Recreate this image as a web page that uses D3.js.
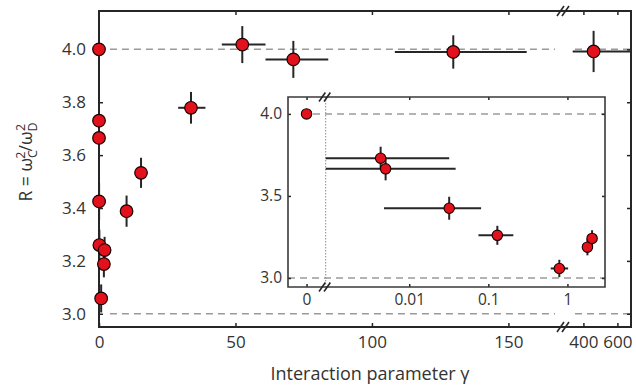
<!DOCTYPE html>
<html>
<head>
<meta charset="utf-8">
<script src="https://cdn.jsdelivr.net/npm/d3@7"></script>
<style>
  html, body { margin: 0; padding: 0; background: #fff; }
  svg { display: block; }
  text { font-family: "Open Sans", "Noto Sans", sans-serif; fill: #333; }
</style>
</head>
<body>
<svg id="chart" width="636" height="385"></svg>
<script>
// Interaction parameter gamma, ratio R = wC^2/wD^2 and their uncertainties
const gamma    = [0,    0.00435, 0.00503, 0.032, 0.13,  0.79,  1.79, 2.05, 10.1,  15.4,  33.7, 52.5, 71.2, 129.8, 460];
const ratio    = [4.00, 3.73,    3.665,   3.425, 3.26,  3.058, 3.188, 3.241, 3.388, 3.533, 3.779, 4.018, 3.962, 3.99, 3.992];
const ratioErr = [0.03, 0.07,    0.07,    0.07,  0.058, 0.053, 0.05, 0.05, 0.059, 0.057, 0.06, 0.07, 0.07, 0.063, 0.078];
const gammaLo  = [0,    0,       0,       0.0048, 0.075, 0.615, 1.62, 1.86, 10.1,  15.4,  29,   45,   61,   108.4, 337];
const gammaHi  = [0,    0.032,   0.0386,  0.081, 0.207, 1.02,  1.98, 2.26, 10.1,  15.4,  39,   61,   84,   156.7, 700];

// Tick values
const mainYTicks   = [3.0, 3.2, 3.4, 3.6, 3.8, 4.0];
const mainXTicksL  = [0, 50, 100, 150];
const mainXTicksR  = [400, 600];
const insetYTicks  = [3.0, 3.5, 4.0];
const insetXTicks  = [0.01, 0.1, 1];
const insetXLabels = ["0.01", "0.1", "1"];
const refLines     = [3.0, 4.0];
const insetMax     = 3;   // points with gamma below this appear in the inset

const points = gamma.map((g, i) => ({
  g, r: ratio[i], re: ratioErr[i], lo: gammaLo[i], hi: gammaHi[i]
}));

const svg = d3.select("#chart");
const ink = "#262626";
const dashCol = "#9a9a9a";
const redFill = "#e3111b";

// ---------- main panel ----------
const M = { left: 99, right: 631, top: 11, bottom: 327, brk: 563 };
const xL = d3.scaleLinear().domain([0, 170]).range([M.left, M.brk]);
const xR = d3.scaleLinear().domain([280, 680]).range([M.brk, M.right]).clamp(true);
const xMain = g => g <= 170 ? xL(g) : xR(g);
const yMain = d3.scaleLinear().domain([2.95, 4.145]).range([M.bottom, M.top]);

const main = svg.append("g");

// reference lines (broken at the axis break)
refLines.forEach(v => {
  [[xL(4), M.brk - 8], [M.brk + 12, M.right]].forEach(([a, b]) => {
    main.append("line")
      .attr("x1", a).attr("x2", b)
      .attr("y1", yMain(v)).attr("y2", yMain(v))
      .attr("stroke", dashCol).attr("stroke-width", 1.5)
      .attr("stroke-dasharray", "7,5");
  });
});

// axes with inward ticks
function styleAxis(g) {
  g.select(".domain").remove();
  g.selectAll(".tick line").attr("stroke", ink).attr("stroke-width", 1.5);
  g.selectAll(".tick text").attr("font-size", 17).attr("fill", "#333")
    .attr("font-family", '"Open Sans", sans-serif');
}
main.append("g").attr("transform", `translate(0,${M.bottom})`)
  .call(d3.axisBottom(xL).tickValues(mainXTicksL).tickSize(-4).tickPadding(9).tickFormat(d3.format("d")))
  .call(styleAxis);
main.append("g").attr("transform", `translate(0,${M.bottom})`)
  .call(d3.axisBottom(xR).tickValues(mainXTicksR).tickSize(-4).tickPadding(9).tickFormat(d3.format("d")))
  .call(styleAxis);
main.append("g").attr("transform", `translate(0,${M.top})`)
  .call(d3.axisTop(xL).tickValues(mainXTicksL.slice(1)).tickSize(-4).tickFormat(""))
  .call(styleAxis);
main.append("g").attr("transform", `translate(0,${M.top})`)
  .call(d3.axisTop(xR).tickValues(mainXTicksR).tickSize(-4).tickFormat(""))
  .call(styleAxis);
main.append("g").attr("transform", `translate(${M.left},0)`)
  .call(d3.axisLeft(yMain).tickValues(mainYTicks).tickSize(-4).tickPadding(13).tickFormat(d3.format(".1f")))
  .call(styleAxis);
main.append("g").attr("transform", `translate(${M.right},0)`)
  .call(d3.axisRight(yMain).tickValues(mainYTicks).tickSize(-4).tickFormat(""))
  .call(styleAxis);

// frame
main.append("path")
  .attr("d", `M${M.left},${M.top}H${M.right}V${M.bottom}H${M.left}Z`)
  .attr("fill", "none").attr("stroke", ink).attr("stroke-width", 2);

// axis break marks
function breakMark(g, x, y, h) {
  [-2.5, 2.5].forEach(dx => {
    g.append("line")
      .attr("x1", x + dx - h * 0.35).attr("y1", y + h / 2)
      .attr("x2", x + dx + h * 0.35).attr("y2", y - h / 2)
      .attr("stroke", ink).attr("stroke-width", 1.6);
  });
}
breakMark(main, M.brk, M.top, 10);
breakMark(main, M.brk, M.bottom, 10);

// error bars and markers
const mg = main.append("g");
points.forEach(p => {
  mg.append("line")
    .attr("x1", xMain(p.g)).attr("x2", xMain(p.g))
    .attr("y1", yMain(p.r - p.re)).attr("y2", yMain(p.r + p.re))
    .attr("stroke", ink).attr("stroke-width", 2);
  mg.append("line")
    .attr("x1", xMain(p.lo)).attr("x2", xMain(p.hi))
    .attr("y1", yMain(p.r)).attr("y2", yMain(p.r))
    .attr("stroke", ink).attr("stroke-width", 2);
});
mg.selectAll("circle").data(points).join("circle")
  .attr("cx", d => xMain(d.g)).attr("cy", d => yMain(d.r))
  .attr("r", 6.3).attr("fill", redFill).attr("stroke", "#1a0000").attr("stroke-width", 1.2);

// axis titles
svg.append("text")
  .attr("x", (M.left + M.right) / 2 + 5).attr("y", 380)
  .attr("text-anchor", "middle").attr("font-size", 18)
  .text("Interaction parameter γ");

const yt = svg.append("text")
  .attr("transform", "translate(32,162) rotate(-90)")
  .attr("text-anchor", "middle").attr("font-size", 17.5);
yt.append("tspan").text("R =  ω");
yt.append("tspan").attr("font-size", 12.5).attr("dy", 5).text("C");
yt.append("tspan").attr("font-size", 12.5).attr("dx", -8.5).attr("dy", -12).text("2");
yt.append("tspan").attr("dy", 7).text("/ω");
yt.append("tspan").attr("font-size", 12.5).attr("dy", 5).text("D");
yt.append("tspan").attr("font-size", 12.5).attr("dx", -8.5).attr("dy", -12).text("2");

// ---------- inset panel ----------
const I = { left: 288, right: 605, top: 97, bottom: 287, brk: 325.7 };
const xi0 = d3.scaleLinear().domain([-1, 1]).range([I.left, I.brk - 0.6]);
const xiLog = d3.scaleLog().domain([Math.pow(10, -3.056), Math.pow(10, 0.475)])
  .range([I.brk, I.right]).clamp(true);
const xInset = g => g <= 0 ? I.brk : xiLog(g);
const yInset = d3.scaleLinear().domain([2.945, 4.103]).range([I.bottom, I.top]);

const inset = svg.append("g");
inset.append("rect")
  .attr("x", I.left).attr("y", I.top)
  .attr("width", I.right - I.left).attr("height", I.bottom - I.top)
  .attr("fill", "#fff");

refLines.forEach(v => {
  inset.append("line")
    .attr("x1", v === 4 ? xi0(0.35) : I.left).attr("x2", I.right)
    .attr("y1", yInset(v)).attr("y2", yInset(v))
    .attr("stroke", dashCol).attr("stroke-width", 1.5)
    .attr("stroke-dasharray", "7,5");
});
inset.append("line")
  .attr("x1", I.brk).attr("x2", I.brk).attr("y1", I.top).attr("y2", I.bottom)
  .attr("stroke", "#8a8a8a").attr("stroke-width", 1).attr("stroke-dasharray", "1.5,1.5");

function styleInsetAxis(g) {
  styleAxis(g);
  g.selectAll(".tick text").attr("font-size", 15.5);
}
inset.append("g").attr("transform", `translate(0,${I.bottom})`)
  .call(d3.axisBottom(xi0).tickValues([0]).tickSize(-3).tickPadding(7).tickFormat(d3.format("d")))
  .call(styleInsetAxis);
inset.append("g").attr("transform", `translate(0,${I.bottom})`)
  .call(d3.axisBottom(xiLog).tickValues(insetXTicks).tickSize(-3).tickPadding(7)
    .tickFormat((d, i) => insetXLabels[i]))
  .call(styleInsetAxis);
inset.append("g").attr("transform", `translate(0,${I.top})`)
  .call(d3.axisTop(xi0).tickValues([0]).tickSize(-3).tickFormat(""))
  .call(styleInsetAxis);
inset.append("g").attr("transform", `translate(0,${I.top})`)
  .call(d3.axisTop(xiLog).tickValues(insetXTicks).tickSize(-3).tickFormat(""))
  .call(styleInsetAxis);
inset.append("g").attr("transform", `translate(${I.left},0)`)
  .call(d3.axisLeft(yInset).tickValues(insetYTicks).tickSize(-3).tickPadding(6).tickFormat(d3.format(".1f")))
  .call(styleInsetAxis);
inset.append("g").attr("transform", `translate(${I.right},0)`)
  .call(d3.axisRight(yInset).tickValues(insetYTicks).tickSize(-3).tickFormat(""))
  .call(styleInsetAxis);

inset.append("path")
  .attr("d", `M${I.left},${I.top}H${I.right}V${I.bottom}H${I.left}Z`)
  .attr("fill", "none").attr("stroke", "#3a3a3a").attr("stroke-width", 1.6);
breakMark(inset, I.brk - 1, I.top, 9);
breakMark(inset, I.brk - 1, I.bottom, 9);

const insetPts = points.filter(p => p.g < insetMax);
const ig = inset.append("g");
insetPts.forEach(p => {
  const cx = p.g === 0 ? xi0(0) : xInset(p.g);
  ig.append("line")
    .attr("x1", cx).attr("x2", cx)
    .attr("y1", yInset(p.r - p.re)).attr("y2", yInset(p.r + p.re))
    .attr("stroke", ink).attr("stroke-width", 2);
  if (p.g > 0) {
    ig.append("line")
      .attr("x1", xInset(p.lo)).attr("x2", xInset(p.hi))
      .attr("y1", yInset(p.r)).attr("y2", yInset(p.r))
      .attr("stroke", ink).attr("stroke-width", 2);
  }
});
ig.selectAll("circle").data(insetPts).join("circle")
  .attr("cx", d => d.g === 0 ? xi0(0) : xInset(d.g)).attr("cy", d => yInset(d.r))
  .attr("r", 5.2).attr("fill", redFill).attr("stroke", "#1a0000").attr("stroke-width", 1.1);
</script>
</body>
</html>
